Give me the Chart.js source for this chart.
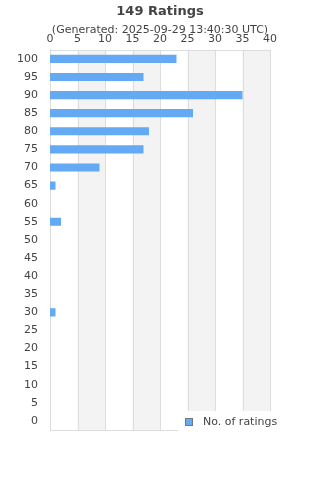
<!DOCTYPE html>
<html>
<head>
<meta charset="utf-8">
<script src="https://cdn.jsdelivr.net/npm/chart.js@4"></script>
<style>
  html, body { margin: 0; padding: 0; background: #fff; }
  #wrap { width: 320px; height: 480px; }
</style>
</head>
<body>
<div id="wrap"><canvas id="chart"></canvas></div>
<script>
  var scores = ['100', '95', '90', '85', '80', '75', '70', '65', '60', '55', '50',
                '45', '40', '35', '30', '25', '20', '15', '10', '5', '0'];
  var ratings = [23, 17, 35, 26, 18, 17, 9, 1, 0, 2, 0, 0, 0, 0, 1, 0, 0, 0, 0, 0, 0];
  var bands = [[5, 10], [15, 20], [25, 30], [35, 40]];

  var barColor = 'rgb(99, 169, 243)';
  var textColor = '#444';

  // grey stripes behind the bars + frame
  var stripes = {
    id: 'stripes',
    beforeDatasetsDraw: function (chart) {
      var ctx = chart.ctx, a = chart.chartArea, x = chart.scales.x;
      ctx.save();
      ctx.fillStyle = '#f3f3f3';
      bands.forEach(function (b) {
        var x0 = x.getPixelForValue(b[0]), x1 = x.getPixelForValue(b[1]);
        ctx.fillRect(x0, a.top, x1 - x0, a.bottom - a.top);
      });
      ctx.strokeStyle = '#dddddd';
      ctx.lineWidth = 1;
      ctx.beginPath();
      for (var v = 0; v <= 40; v += 5) {
        var px = Math.round(x.getPixelForValue(v)) + 0.5;
        ctx.moveTo(px, a.top);
        ctx.lineTo(px, a.bottom);
      }
      ctx.moveTo(a.left, Math.round(a.top) + 0.5);
      ctx.lineTo(a.right, Math.round(a.top) + 0.5);
      ctx.moveTo(a.left, Math.round(a.bottom) + 0.5);
      ctx.lineTo(a.right, Math.round(a.bottom) + 0.5);
      ctx.stroke();
      ctx.restore();
    }
  };

  // legend box sitting on the lower right corner of the plot
  var cornerLegend = {
    id: 'cornerLegend',
    afterDraw: function (chart) {
      var ctx = chart.ctx;
      var lx = 178, ly = 411;
      ctx.save();
      ctx.fillStyle = '#fff';
      ctx.fillRect(lx, ly, 320 - lx, 30);
      ctx.fillStyle = barColor;
      ctx.fillRect(185.5, 418.5, 7, 7);
      ctx.strokeStyle = '#777';
      ctx.lineWidth = 1;
      ctx.strokeRect(185.5, 418.5, 7, 7);
      ctx.fillStyle = textColor;
      ctx.font = '11px "DejaVu Sans"';
      ctx.textBaseline = 'middle';
      ctx.fillText(chart.data.datasets[0].label, 203, 422);
      ctx.restore();
    }
  };

  new Chart(document.getElementById('chart'), {
    type: 'bar',
    data: {
      labels: scores,
      datasets: [{
        label: 'No. of ratings',
        data: ratings,
        backgroundColor: barColor,
        borderWidth: 0,
        barPercentage: 0.45,
        categoryPercentage: 1
      }]
    },
    options: {
      indexAxis: 'y',
      responsive: true,
      maintainAspectRatio: false,
      animation: false,
      layout: { padding: { left: 0, right: 0, top: 0, bottom: 50 } },
      plugins: {
        legend: { display: false },
        tooltip: { enabled: false },
        title: {
          display: true,
          text: '149 Ratings',
          color: textColor,
          font: { family: 'DejaVu Sans', size: 13, weight: 'bold' },
          padding: { top: 4, bottom: 4 }
        },
        subtitle: {
          display: true,
          text: '(Generated: 2025-09-29 13:40:30 UTC)',
          color: textColor,
          font: { family: 'DejaVu Sans', size: 11 },
          padding: { top: 0, bottom: -9 }
        }
      },
      scales: {
        x: {
          position: 'top',
          min: 0,
          max: 40,
          ticks: {
            stepSize: 5,
            color: textColor,
            padding: 4,
            font: { family: 'DejaVu Sans', size: 11 }
          },
          grid: { display: false, drawTicks: false },
          border: { display: false },
          afterFit: function (s) { s.height = 22; }
        },
        y: {
          ticks: {
            color: textColor,
            padding: 12,
            font: { family: 'DejaVu Sans', size: 11 }
          },
          grid: { display: false, drawTicks: false },
          border: { display: true, color: '#dddddd' },
          afterFit: function (s) { s.width = 50; }
        },
        yr: {
          type: 'category',
          position: 'right',
          ticks: { display: false },
          grid: { display: false, drawTicks: false },
          border: { display: false },
          afterFit: function (s) { s.width = 50; }
        }
      }
    },
    plugins: [stripes, cornerLegend]
  });
</script>
</body>
</html>
